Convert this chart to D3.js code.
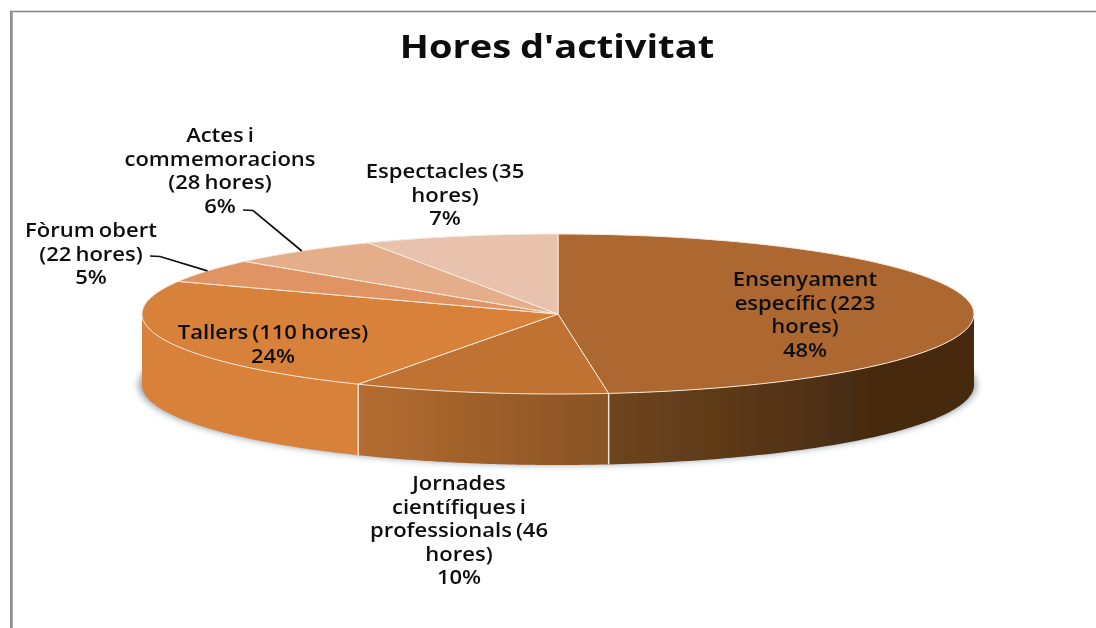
<!DOCTYPE html>
<html><head><meta charset="utf-8">
<script src="https://cdn.jsdelivr.net/npm/d3@7"></script>
<style>html,body{margin:0;padding:0;background:#fff}svg{display:block}
text{font-family:"Open Sans",sans-serif;fill:#111}</style></head>
<body><svg id="c" width="1096" height="628"></svg>
<script>
const titleText = "Hores d'activitat";
const categories = ["Ensenyament específic (223 hores)","Jornades científiques i professionals (46 hores)","Tallers (110 hores)","Fòrum obert (22 hores)","Actes i commemoracions (28 hores)","Espectacles (35 hores)"];
const hours = [223,46,110,22,28,35];
const percents = ["48%","10%","24%","5%","6%","7%"];
const topColors = ["#ad6830","#bf7231","#d8813a","#e09463","#e5ae8b","#e9c2ad"];
const wallStart = ["#6e451e","#b56c30","#d8813a","#d8813a","#d8813a","#d8813a"];
const wallEnd = ["#472b11","#875325","#d8813a","#d8813a","#d8813a","#d8813a"];
const labelLines = [
 ["Ensenyament","específic (223","hores)"],
 ["Jornades","científiques i","professionals (46","hores)"],
 ["Tallers (110 hores)"],
 ["Fòrum obert","(22 hores)"],
 ["Actes i","commemoracions","(28 hores)"],
 ["Espectacles (35","hores)"]];
const labelAnchor = [[805,286],[459,490],[273,339],[91,237],[220,142],[445,178]];
const leaderFrom = [null,null,null,[150,256],[243,210],null];

const svg = d3.select("#c");
const defs = svg.append("defs");
const x = d3.scaleLinear().domain([-1,1]).range([142,974]);
const y = d3.scaleLinear().domain([-1,1]).range([394,234]);
const depth = 71;
const pie = d3.pie().sort(null).startAngle(0).endAngle(2*Math.PI)(hours);
const px = a=>x(Math.sin(a)), py = a=>y(Math.cos(a));
const sample=(a0,a1)=>d3.range(0,81).map(i=>a0+(a1-a0)*i/80);
const line=d3.line();

const f=defs.append("filter").attr("id","sh").attr("x","-5%").attr("y","-20%").attr("width","110%").attr("height","140%");
f.append("feGaussianBlur").attr("stdDeviation",3);
const fb=defs.append("filter").attr("id","soft");
fb.append("feGaussianBlur").attr("stdDeviation",0.45);
const ft=defs.append("filter").attr("id","softText").attr("x","-5%").attr("y","-10%").attr("width","110%").attr("height","120%");
ft.append("feGaussianBlur").attr("stdDeviation",0.4);

// frame
svg.append("path").attr("d",line([[11.35,11],[11.35,628]])).attr("fill","none").attr("stroke","#8f8f8f").attr("stroke-width",2.7);
svg.append("path").attr("d",line([[10,11.5],[1096,11.5]])).attr("fill","none").attr("stroke","#858585").attr("stroke-width",1.4);

// shadow
svg.append("path").attr("filter","url(#sh)").attr("fill","#5f6f80").attr("opacity",.6)
 .attr("d",line(sample(0,2*Math.PI).map(a=>[px(a)+(Math.sin(a)>0?3:-4),py(a)+depth]))+"Z");

const g=svg.append("g").attr("filter","url(#soft)");
// walls
const H=Math.PI/2, T=3*Math.PI/2;
pie.forEach((d,i)=>{
  const a0=Math.max(d.startAngle,H), a1=Math.min(d.endAngle,T);
  if(a1<=a0) return;
  const id="w"+i, xa=px(a0), xb=px(a1);
  const lg=defs.append("linearGradient").attr("id",id).attr("gradientUnits","userSpaceOnUse").attr("y1",0).attr("y2",0);
  const x1=Math.min(xa,xb);
  if(i===0) lg.attr("x1",x1).attr("x2",x1+260);
  else lg.attr("x1",x1).attr("x2",Math.max(xa,xb));
  lg.append("stop").attr("offset",0).attr("stop-color",wallStart[i]);
  lg.append("stop").attr("offset",1).attr("stop-color",wallEnd[i]);
  const s=sample(a0,a1);
  const pts=s.map(a=>[px(a),py(a)]).concat(s.slice().reverse().map(a=>[px(a),py(a)+depth]));
  g.append("path").attr("d",line(pts)+"Z").attr("fill",`url(#${id})`);
  [d.startAngle,d.endAngle].forEach(a=>{
    if(a>H&&a<T) g.append("path").attr("d",line([[px(a),py(a)],[px(a),py(a)+depth]])).attr("stroke","#f3e6d6").attr("stroke-width",1.3);
  });
});
// top slices
pie.forEach((d,i)=>{
  const s=sample(d.startAngle,d.endAngle);
  g.append("path").attr("d",line([[x(0),y(0)],...s.map(a=>[px(a),py(a)])])+"Z")
   .attr("fill",topColors[i]).attr("stroke","#f6e9da").attr("stroke-width",1).attr("stroke-linejoin","round");
});
// leaders
pie.forEach((d,i)=>{
  if(!leaderFrom[i]) return;
  const m=(d.startAngle+d.endAngle)/2, p=leaderFrom[i];
  svg.append("path").attr("d",line([p,[p[0]+10,p[1]+0.5],[px(m),py(m)]])).attr("fill","none").attr("stroke","#111").attr("stroke-width",1.7);
});
// labels: the reference type is stretched horizontally
const tg=svg.append("g").attr("filter","url(#softText)");
labelLines.forEach((ls,i)=>{
  ls.concat(percents[i]).forEach((l,j)=>{
    tg.append("text").attr("text-anchor","middle").attr("font-size",19).attr("font-weight",600)
      .attr("word-spacing",-1.5)
      .attr("transform",`translate(${labelAnchor[i][0]},${labelAnchor[i][1]+j*23.5}) scale(1.16,1)`)
      .text(l);
  });
});
tg.append("text").attr("text-anchor","middle").attr("font-size",32).attr("font-weight",700)
  .attr("word-spacing",-1)
  .attr("transform","translate(557,58) scale(1.19,1)").text(titleText);
</script></body></html>
